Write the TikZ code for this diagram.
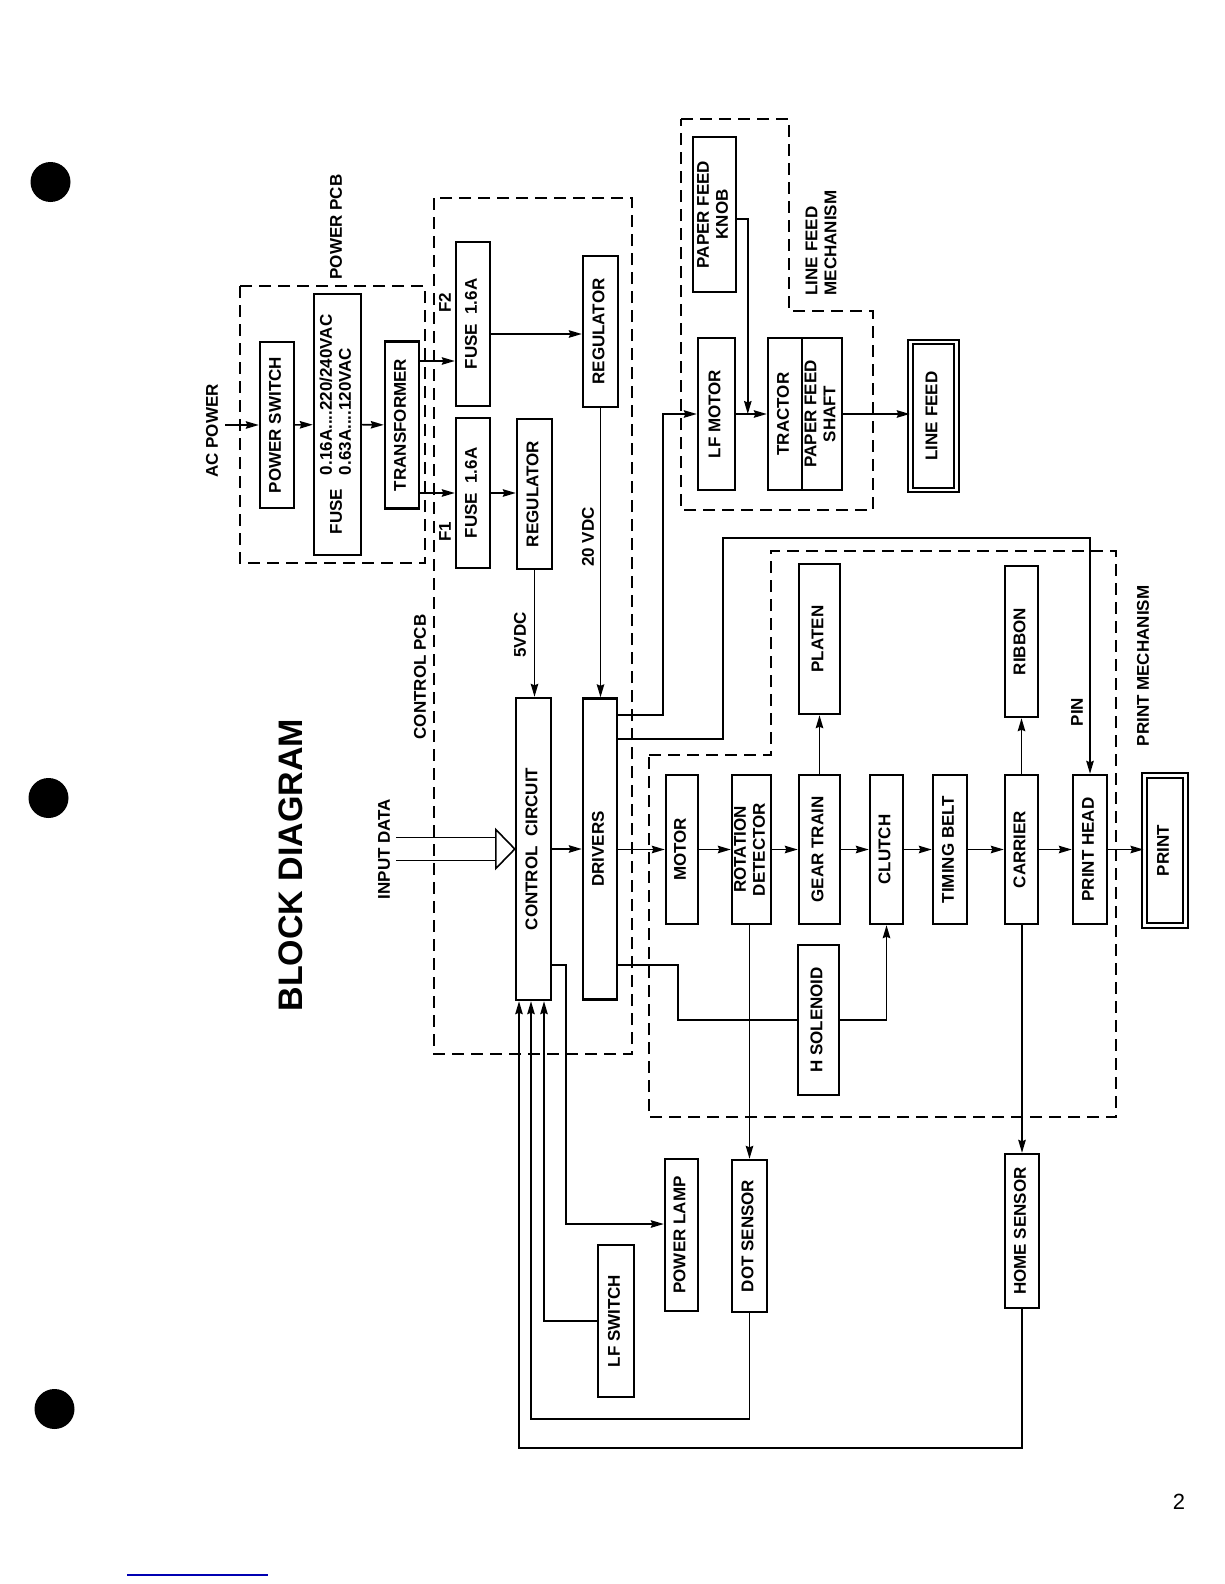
\documentclass[tikz,border=0pt]{standalone}
\usepackage{fontspec}
\setmainfont{Liberation Sans}
\usetikzlibrary{arrows.meta}

\newcommand{\vt}[1]{\rotatebox{90}{\begin{tabular}{@{}c@{}}#1\end{tabular}}}

\begin{document}
\begin{tikzpicture}[x=1pt, y=-1pt,
  every node/.style={font=\bfseries\fontsize{17}{19}\selectfont},
  box/.style 2 args={draw, line width=2.4pt, minimum width=#1pt, minimum height=#2pt, inner sep=0pt},
  dbox/.style 2 args={box={#1}{#2}, line width=2pt, double, double distance=2.6pt},
  link/.style={line width=1.6pt},
  pcb/.style={line width=1.6pt, dash pattern=on 12pt off 7pt},
  >={Stealth[length=13pt,width=7.5pt,inset=1.5pt]}]
\useasboundingbox (0,0) rectangle (1224,1584);

% page marks
\fill (50.5,182) circle (20pt);
\fill (48.5,798) circle (20pt);
\fill (54.5,1409) circle (20pt);
\draw[blue!70!black, line width=1.2pt] (127,1575) -- (268,1575);
\node[font=\fontsize{22}{24}\selectfont] (pgno) at (1179,1502) {2};
\node[rotate=90, font=\bfseries\fontsize{34}{40}\selectfont] (title) at (291,865) {BLOCK DIAGRAM};

% dashed boards
\draw[pcb] (240,286) rectangle (425,563);
\draw[pcb] (434,198) rectangle (632,1054);
\draw[pcb] (681,119) -- (789,119) -- (789,311) -- (873,311) -- (873,510) -- (681,510) -- cycle;
\draw[pcb] (649,755) -- (771,755) -- (771,551) -- (1116,551) -- (1116,1117) -- (649,1117) -- cycle;

% power pcb
\node[box={34}{166}] (psw) at (277,425) {\vt{POWER SWITCH}};
\node[box={47}{261}] (fuse) at (337.5,424.5) {\rotatebox{90}{FUSE\hspace{14pt}\begin{tabular}{@{}l@{}}0.16A....220/240VAC\\0.63A....120VAC\end{tabular}}};
\node[box={34}{167}] (trans) at (402,425) {\vt{TRANSFORMER}};

% control pcb
\node[box={34}{164}] (fuse2) at (473,324) {\vt{FUSE\ \ 1.6A}};
\node[box={34}{150}] (fuse1) at (473,493) {\vt{FUSE\ \ 1.6A}};
\node[box={35}{150}] (reg1) at (534.5,494) {\vt{REGULATOR}};
\node[box={35}{151}] (reg2) at (600.5,331.5) {\vt{REGULATOR}};
\node[box={35}{302}] (ctrl) at (533.5,849) {\vt{CONTROL\ \ CIRCUIT}};
\node[box={34}{301}] (drv) at (600,849) {\vt{DRIVERS}};

% line feed mechanism
\node[box={43}{155}] (knob) at (714.5,214.5) {\vt{PAPER FEED\\KNOB}};
\node[box={37}{152}] (lfm) at (716.5,414) {\vt{LF MOTOR}};
\node[box={34}{152}] (tract) at (785,414) {\vt{TRACTOR}};
\node[box={40}{152}] (shaft) at (822,414) {\vt{PAPER FEED\\SHAFT}};
\node[dbox={45.5}{148}] (lfeed) at (933.5,416) {\vt{LINE FEED}};

% print mechanism
\node[box={32}{149}] (motor) at (682,849.5) {\vt{MOTOR}};
\node[box={39}{149}] (rotdet) at (751.5,849.5) {\vt{ROTATION\\DETECTOR}};
\node[box={41}{149}] (gear) at (819.5,849.5) {\vt{GEAR TRAIN}};
\node[box={33}{149}] (clutch) at (886.5,849.5) {\vt{CLUTCH}};
\node[box={34}{149}] (belt) at (950,849.5) {\vt{TIMING BELT}};
\node[box={33}{149}] (carrier) at (1021.5,849.5) {\vt{CARRIER}};
\node[box={34}{149}] (phead) at (1090,849.5) {\vt{PRINT HEAD}};
\node[dbox={41}{149.5}] (print) at (1165,850.5) {\vt{PRINT}};
\node[box={41}{150}] (platen) at (819.5,639) {\vt{PLATEN}};
\node[box={33}{151}] (ribbon) at (1021.5,641.5) {\vt{RIBBON}};
\node[box={41}{150}] (hsol) at (818.5,1020) {\vt{H SOLENOID}};

% outside the boards
\node[box={33}{152}] (plamp) at (681.5,1235) {\vt{POWER LAMP}};
\node[box={35}{152}] (dots) at (749.5,1236) {\vt{DOT SENSOR}};
\node[box={34}{154}] (home) at (1022,1231) {\vt{HOME SENSOR}};
\node[box={36}{152}] (lfsw) at (616,1321) {\vt{LF SWITCH}};

% labels
\node[rotate=90] (acp) at (212,431) {AC POWER};
\coordinate (acin) at (225,425);
\node[rotate=90] (ppcb) at (336,227) {POWER PCB};
\node[rotate=90] (cpcb) at (420,677) {CONTROL PCB};
\node[rotate=90] (f2) at (445,303) {F2};
\node[rotate=90] (f1) at (445,532) {F1};
\node[rotate=90] (v5) at (520,635) {5VDC};
\node[rotate=90] (v20) at (588,537) {20 VDC};
\node[rotate=90] (indata) at (384,849) {INPUT DATA};
\node (lfmech) at (823,243) {\rotatebox{90}{\begin{tabular}{@{}l@{}}LINE FEED\\MECHANISM\end{tabular}}};
\node[rotate=90] (pmech) at (1143,666) {PRINT MECHANISM};
\node[rotate=90] (pin) at (1077,712) {PIN};

% power path
\draw[link,->] (acin) -- (psw);
\draw[link,->] (psw) -- (fuse);
\draw[link,->] (fuse) -- (trans);
\draw[link,->] (trans.east |- 0,361) -- (fuse2.west |- 0,361);
\draw[link,->] (trans.east |- fuse1) -- (fuse1);
\draw[link,->] (fuse2.east |- 0,334) -- (reg2.west |- 0,334);
\draw[link,->] (fuse1.east) -- (fuse1.east -| reg1.west);
\draw[link,->] (reg1.south) -- (reg1.south |- ctrl.north);
\draw[link,->] (reg2.south) -- (reg2.south |- drv.north);

% input data
\draw[link] (396,837.5) -- (497,837.5) (396,860.5) -- (497,860.5);
\draw[link, fill=white] (ctrl.west) -- ++(-19,-19.5) -- ++(0,39) -- cycle;

% control and drivers
\draw[link,->] (ctrl) -- (drv);
\draw[link,->] (drv.east |- motor) -- (motor);
\foreach \a/\b in {motor/rotdet, rotdet/gear, gear/clutch, clutch/belt, belt/carrier, carrier/phead, phead/print}
  \draw[link,->] (\a.east) -- (\a.east -| \b.west);
\draw[link,->] (gear) -- (platen);
\draw[link,->] (carrier) -- (ribbon);
\draw[link,->] (rotdet.south -| dots.north) -- (dots.north);
\draw[link,->] (carrier.south -| home.north) -- (home.north);
\draw[link,->] (hsol.east) -| (clutch.south);
\draw[link] (drv.east |- 0,965) -| ([xshift=-119pt]hsol.west) -- (hsol.west);
\draw[link,->] (drv.east |- 0,715) -| ([xshift=-34pt]lfm.west) -- (lfm.west);
\draw[link,->] (drv.east |- 0,739) -| (723,538) -| (phead.north);

% line feed
\draw[link,->] (lfm) -- (tract);
\draw[link,->] (knob.east |- 0,219) -| ([xshift=-19pt]tract.west);
\draw[link,->] (shaft.east) -- (shaft.east -| lfeed.west);

% feedback to control circuit
\draw[link,->] (ctrl.east |- 0,965) -| (566,1224) -- (plamp.west |- 0,1224);
\draw[link,->] (lfsw.west) -| ([xshift=10.5pt]ctrl.south);
\draw[link,->] (dots.south) -- ++(0,106) -| ([xshift=-2.5pt]ctrl.south);
\draw[link,->] (home.south) -- ++(0,139) -| ([xshift=-14.5pt]ctrl.south);
\end{tikzpicture}
\end{document}
